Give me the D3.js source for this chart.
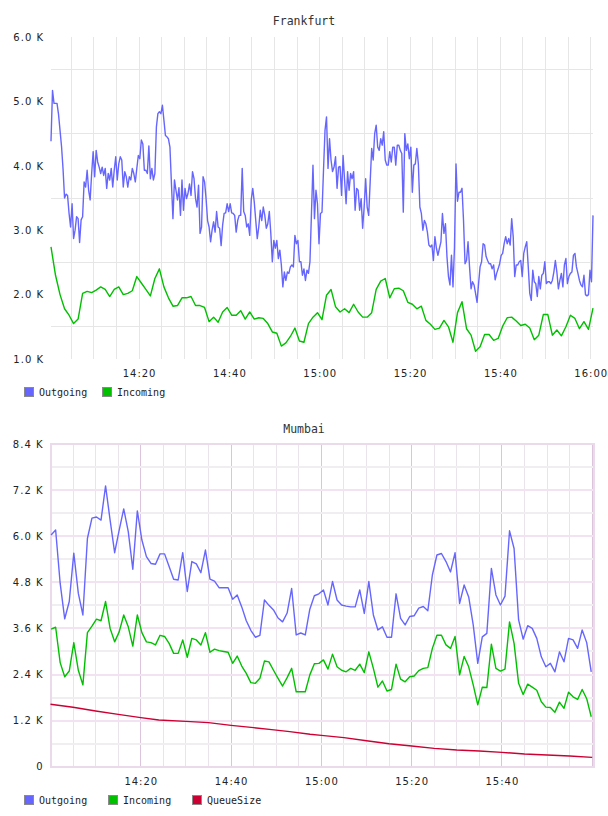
<!DOCTYPE html>
<html>
<head>
<meta charset="utf-8">
<script src="https://cdn.jsdelivr.net/npm/d3@7"></script>
<style>
  body { margin: 0; background: #fff; }
  svg { display: block; }
  .tick text { font-family: "DejaVu Sans", sans-serif; font-size: 10px; fill: #222; letter-spacing: 1px; }
  .title { font-family: "DejaVu Sans Mono", monospace; font-size: 11.5px; fill: #333; }
  .legend text { font-family: "DejaVu Sans Mono", monospace; font-size: 10px; fill: #222; }
  .grid { shape-rendering: crispEdges; }
</style>
</head>
<body>
<svg id="chart" width="608" height="816"></svg>
<script>
// values in thousands (K)
let frankOutStart = "14:00:30", frankOutStep = 20; // seconds
let frankOutgoing = [
  4.38,5.17,4.97,4.97,4.97,4.80,4.55,4.30,3.95,3.50,
  3.56,3.54,3.26,3.05,3.41,2.87,3.00,3.21,3.18,2.81,
  3.16,3.21,3.75,3.67,3.93,3.62,3.47,3.88,4.22,3.83,
  4.24,4.06,3.98,3.88,3.98,3.85,3.96,3.65,3.88,3.78,
  3.96,3.67,3.93,4.14,3.78,4.03,4.14,4.09,3.67,3.91,
  3.83,3.67,3.83,3.78,3.96,3.88,3.75,3.96,4.16,4.11,
  4.40,4.34,3.93,3.93,3.88,4.31,3.80,3.96,3.78,3.88,
  4.60,4.81,4.84,4.81,4.94,4.71,4.47,4.45,4.42,4.29,
  3.72,3.18,3.78,3.62,3.47,3.66,3.23,3.78,3.31,3.65,
  3.49,3.57,3.72,3.54,3.91,3.80,3.49,3.36,3.70,2.95,
  3.05,3.83,3.75,3.49,3.15,3.05,2.82,3.00,3.13,2.97,
  3.29,3.05,3.03,2.76,3.08,3.26,3.27,3.41,3.29,3.41,
  3.27,3.26,3.23,2.97,3.15,3.23,3.23,3.96,3.29,3.23,
  3.05,3.10,2.92,3.47,3.65,3.44,3.15,2.87,3.05,3.31,
  3.15,3.36,3.23,3.03,3.10,3.29,2.95,2.51,2.84,2.72,
  2.84,2.56,2.69,2.46,2.12,2.35,2.22,2.35,2.33,2.43,
  2.46,2.43,2.92,2.79,2.84,2.51,2.51,2.30,2.40,2.22,
  2.38,2.33,2.51,3.26,4.01,3.18,3.62,3.41,2.79,3.26,
  3.28,3.93,4.55,4.76,3.96,4.42,4.09,3.91,3.98,4.14,
  3.65,3.98,3.99,3.54,4.16,3.78,3.41,3.91,3.62,3.88,
  3.80,3.91,3.31,3.65,3.62,3.31,3.49,3.03,3.36,3.80,
  3.36,3.23,3.75,4.27,4.09,4.50,4.63,4.29,4.24,4.42,
  4.32,4.53,4.09,4.01,4.01,4.22,4.06,4.29,4.29,4.01,
  4.32,4.32,4.24,4.19,3.28,4.50,4.24,4.34,4.11,4.29,
  3.59,4.01,4.03,4.27,4.03,3.36,3.26,3.00,3.15,3.10,
  2.97,2.77,2.74,2.77,2.53,2.90,2.72,2.61,2.72,2.82,
  3.26,2.95,3.10,2.59,2.28,2.15,2.61,2.12,2.74,4.03,
  3.45,3.59,3.59,3.65,3.15,2.48,2.53,2.82,2.43,2.09,
  2.20,2.15,2.02,1.88,2.17,2.43,2.51,2.79,2.77,2.59,
  2.53,2.48,2.48,2.40,2.46,2.23,2.33,2.40,2.48,2.61,
  2.64,2.79,2.90,2.79,2.87,2.77,3.18,2.90,2.28,2.46,
  2.46,2.51,2.53,2.28,2.64,2.74,2.82,2.43,2.02,1.91,
  2.38,2.20,2.17,1.97,2.28,2.09,2.30,2.33,2.51,2.17,
  2.20,2.20,2.17,2.22,2.35,2.53,2.35,2.09,2.22,2.33,
  2.12,2.46,2.56,2.17,2.28,2.33,2.35,2.61,2.64,2.43,
  2.33,2.22,2.15,2.12,2.30,2.00,1.98,2.00,2.38,2.20,
  3.23
];
let frankInStart = "14:00:30", frankInStep = 60;
let frankIncoming = [
  2.74,2.30,2.00,1.78,1.68,1.55,1.62,2.02,2.05,2.03,
  2.07,2.12,2.08,1.97,2.08,2.12,2.00,2.02,2.06,2.28,
  2.18,2.08,1.98,2.25,2.40,2.12,1.95,1.82,1.83,1.95,
  1.95,1.97,1.83,1.83,1.80,1.58,1.65,1.57,1.73,1.80,
  1.68,1.68,1.75,1.62,1.73,1.62,1.64,1.63,1.55,1.42,
  1.40,1.20,1.25,1.35,1.48,1.28,1.26,1.55,1.65,1.72,
  1.61,1.99,2.08,1.81,1.73,1.78,1.72,1.85,1.73,1.65,
  1.65,1.72,2.08,2.21,2.25,1.95,2.09,2.10,2.06,1.88,
  1.85,1.78,1.82,1.60,1.54,1.46,1.48,1.60,1.50,1.26,
  1.72,1.89,1.47,1.37,1.12,1.19,1.38,1.38,1.29,1.32,
  1.51,1.64,1.65,1.59,1.52,1.54,1.48,1.30,1.37,1.69,
  1.69,1.37,1.45,1.36,1.50,1.68,1.63,1.47,1.58,1.46,
  1.79
];

let mumStart = "14:00:08", mumStep = 60.33;
let mumOutgoing = [
  6.03,6.16,4.77,3.85,4.30,5.56,4.51,3.95,5.94,6.47,
  6.50,6.42,7.31,6.42,5.57,6.16,6.71,6.12,5.14,6.66,
  5.90,5.47,5.29,5.27,5.54,5.54,5.21,4.88,4.86,5.57,
  4.56,5.34,5.28,5.05,5.64,4.88,4.83,4.66,4.66,4.66,
  4.36,4.47,4.16,3.80,3.55,3.37,3.42,4.34,4.20,4.08,
  3.87,3.77,4.00,4.64,3.43,3.48,3.43,4.10,4.45,4.50,
  4.60,4.21,4.82,4.34,4.21,4.18,4.16,4.16,4.60,3.99,
  4.82,3.95,3.56,3.64,3.37,3.37,4.50,3.86,3.69,3.91,
  3.93,4.13,4.17,4.06,4.99,5.51,5.55,5.34,5.07,5.57,
  4.25,4.73,4.42,3.69,2.69,3.38,3.47,5.16,4.47,4.21,
  4.44,6.14,5.68,3.82,3.32,3.67,3.60,3.34,2.86,2.60,
  2.69,2.47,2.99,2.73,3.34,3.30,3.08,3.56,3.23,2.47
];
let mumIncoming = [
  3.58,3.63,2.71,2.34,2.49,3.23,2.51,2.13,3.49,3.66,
  3.84,3.80,4.30,3.60,3.25,3.51,3.95,3.64,3.14,3.95,
  3.49,3.25,3.23,3.17,3.42,3.39,3.21,2.95,2.95,3.30,
  2.85,3.34,3.30,3.17,3.49,2.98,3.06,3.02,3.00,2.98,
  2.69,2.88,2.62,2.43,2.19,2.17,2.30,2.75,2.73,2.51,
  2.30,2.10,2.32,2.56,1.95,1.95,1.95,2.39,2.68,2.69,
  2.78,2.54,2.93,2.60,2.51,2.47,2.56,2.51,2.67,2.45,
  2.99,2.56,2.07,2.23,1.97,2.01,2.67,2.28,2.21,2.34,
  2.36,2.50,2.56,2.58,3.08,3.42,3.42,3.17,3.08,3.39,
  2.39,2.87,2.60,2.13,1.61,2.07,2.06,3.19,2.56,2.49,
  2.54,3.77,3.21,2.17,1.88,2.15,2.07,1.99,1.69,1.55,
  1.54,1.42,1.68,1.52,1.94,1.82,1.75,2.01,1.77,1.30
];
// queue size sampled at minutes after 14:00
let mumQueueMinutes = [0,5,10,15,20,24,30,35,40,45,49,53,57.5,60,65,70,75,80,85,90,95,100,105,110,115,120];
let mumQueueSize = [1.624,1.546,1.450,1.363,1.276,1.216,1.181,1.146,1.077,1.016,0.964,0.912,0.843,0.816,0.756,0.677,0.599,0.538,0.478,0.434,0.408,0.374,0.330,0.304,0.278,0.244];

let frankXTicks = ["14:20","14:40","15:00","15:20","15:40","16:00"];
let mumXTicks = ["14:20","14:40","15:00","15:20","15:40"];
let frankYTicks = [1,2,3,4,5,6];
let frankYGrid = [1.5,2.5,3.5,4.5,5.5];
let mumYTicks = [0,1.2,2.4,3.6,4.8,6.0,7.2,8.4];
let mumYGrid = [0.6,1.8,3.0,4.2,5.4,6.6,7.8];

let seriesNames = ["Outgoing","Incoming","QueueSize"];
let seriesColors = ["#6666ff","#00c000","#cc0033"];

function toTime(s) {
  let p = s.split(":").map(Number);
  return new Date(2020, 0, 1, p[0], p[1], p[2] || 0);
}
function series(start, step, vals) {
  let t0 = toTime(start).getTime();
  return vals.map((v, i) => ({t: new Date(t0 + i*step*1000), v: v}));
}

let svg = d3.select("#chart");
let fmtK = v => v === 0 ? "0" : d3.format(".1f")(v) + " K";

function drawChart(cfg) {
  let x = d3.scaleTime().domain(cfg.xDomain.map(toTime)).range([cfg.left, cfg.right]);
  let y = d3.scaleLinear().domain(cfg.yDomain).range([cfg.bottom, cfg.top]);
  let g = svg.append("g");

  g.append("text").attr("class","title")
    .attr("x", 304).attr("y", cfg.titleY).attr("dy","0.35em")
    .attr("text-anchor","middle").text(cfg.title);

  let grid = g.append("g").attr("class","grid");
  // vertical grid every 5 minutes
  let vt = d3.timeMinute.every(5).range(toTime("14:05"), toTime("16:01"))
    .filter(d => x(d) <= cfg.right - 1);
  grid.selectAll(".vg").data(vt).enter().append("line")
    .attr("x1", d => x(d)).attr("x2", d => x(d))
    .attr("y1", cfg.top).attr("y2", cfg.bottom)
    .attr("stroke", d => (cfg.majorV && d.getMinutes() % 20 === 0) ? cfg.majorV : cfg.minorV)
    .attr("stroke-width", 1);

  // horizontal grid
  grid.selectAll(".hg").data(cfg.yGrid).enter().append("line")
    .attr("x1", cfg.left).attr("x2", cfg.right)
    .attr("y1", d => y(d)).attr("y2", d => y(d))
    .attr("stroke", cfg.gridH).attr("stroke-width", cfg.gridHW);
  if (cfg.tickH) {
    grid.selectAll(".hgt").data(cfg.yTicks).enter().append("line")
      .attr("x1", cfg.left).attr("x2", cfg.right)
      .attr("y1", d => y(d)).attr("y2", d => y(d))
      .attr("stroke", cfg.tickH).attr("stroke-width", cfg.gridHW);
  }
  if (cfg.border) {
    grid.append("rect").attr("x", cfg.left).attr("y", cfg.top)
      .attr("width", cfg.right - cfg.left).attr("height", cfg.bottom - cfg.top)
      .attr("fill","none").attr("stroke", cfg.border).attr("stroke-width", 2);
  }

  // axes
  let xa = g.append("g").attr("transform", "translate(0," + cfg.bottom + ")")
    .call(d3.axisBottom(x).tickValues(cfg.xTicks.map(toTime))
      .tickFormat(d3.timeFormat("%H:%M")).tickSize(0).tickPadding(11));
  xa.select(".domain").remove();
  let ya = g.append("g").attr("transform", "translate(" + cfg.left + ",0)")
    .call(d3.axisLeft(y).tickValues(cfg.yTicks).tickFormat(fmtK).tickSize(0).tickPadding(7));
  ya.select(".domain").remove();

  // lines
  let line = d3.line().x(d => x(d.t)).y(d => y(d.v));
  cfg.series.forEach((s, i) => {
    g.append("path").datum(s)
      .attr("d", line).attr("fill","none")
      .attr("stroke", seriesColors[i]).attr("stroke-width", 1.4)
      .attr("stroke-linejoin","round");
  });

  // legend
  let lg = g.append("g").attr("class","legend");
  let lx = 24;
  cfg.series.forEach((s, i) => {
    lg.append("rect").attr("x", lx + 0.5).attr("y", cfg.legendY - 4.5)
      .attr("width", 9).attr("height", 9)
      .attr("fill", seriesColors[i]).attr("stroke", "#8a8a8a");
    lg.append("text").attr("x", lx + 15).attr("y", cfg.legendY).attr("dy","0.35em")
      .text(seriesNames[i]);
    lx += 15 + seriesNames[i].length * 6 + cfg.legendGap;
  });
}

drawChart({
  title: "Frankfurt", titleY: 20.5,
  xDomain: ["14:00:30", "16:00:30"], left: 51, right: 593,
  yDomain: [1, 6], top: 37, bottom: 359,
  xTicks: frankXTicks, yTicks: frankYTicks, yGrid: frankYGrid,
  minorV: "#e6e6e6", gridH: "#e6e6e6", gridHW: 1,
  series: [series(frankOutStart, frankOutStep, frankOutgoing),
           series(frankInStart, frankInStep, frankIncoming)],
  legendY: 392, legendGap: 15
});

drawChart({
  title: "Mumbai", titleY: 429,
  xDomain: ["14:00:00", "16:00:24"], left: 50.5, right: 594,
  yDomain: [0, 8.4], top: 444, bottom: 766.7,
  xTicks: mumXTicks, yTicks: mumYTicks, yGrid: mumYGrid,
  minorV: "#ebe3eb", majorV: "#dcc4dc", gridH: "#f0eef0", tickH: "#f2e2f2", gridHW: 2,
  border: "#eadaea",
  series: [series(mumStart, mumStep, mumOutgoing),
           series(mumStart, mumStep, mumIncoming),
           mumQueueMinutes.map((m, i) => ({t: new Date(toTime("14:00").getTime() + m*60000), v: mumQueueSize[i]}))],
  legendY: 800, legendGap: 21
});
</script>
</body>
</html>
